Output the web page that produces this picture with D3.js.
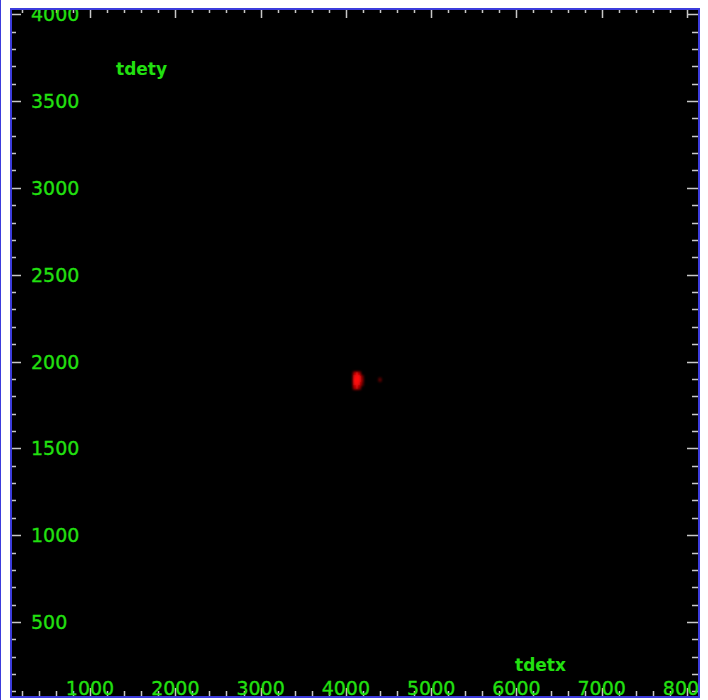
<!DOCTYPE html>
<html>
<head>
<meta charset="utf-8">
<script src="https://cdn.jsdelivr.net/npm/d3@7"></script>
<style>
  html, body { margin: 0; padding: 0; background: #ffffff; }
  svg { display: block; }
</style>
</head>
<body>
<script>
// ---- data ----
const xDomain = [85, 8129];
const yDomain = [74, 4024];
const xMajorTicks = [1000, 2000, 3000, 4000, 5000, 6000, 7000, 8000];
const yMajorTicks = [500, 1000, 1500, 2000, 2500, 3000, 3500, 4000];
const xTitle = "tdetx";
const yTitle = "tdety";
// 2D histogram cells (left edge x, bottom edge y, count)
const binW = 30, binH = 20;
const cellX = [4085,4115,4145, 4085,4115,4145,4175, 4085,4115,4145,4175, 4085,4115,4145,4175, 4085,4115,4145, 4385];
const cellY = [1920,1920,1920, 1900,1900,1900,1900, 1880,1880,1880,1880, 1860,1860,1860,1860, 1840,1840,1840, 1885];
const cellN = [6,9,6, 9,10,10,4, 10,10,10,5, 9,10,9,3, 6,8,5, 3];

const W = 708, H = 700;
const plot = {x0: 12, x1: 698, y0: 10, y1: 696};
const tickColor = "#c8c8c8";
const labelColor = "#22e010";
const frameColor = "#3c3cdc";

const svg = d3.select("body").append("svg").attr("width", W).attr("height", H);
svg.append("rect").attr("width", W).attr("height", H).attr("fill", "#fff");

const x = d3.scaleLinear().domain(xDomain).range([plot.x0, plot.x1]);
const y = d3.scaleLinear().domain(yDomain).range([plot.y1, plot.y0]);

const defs = svg.append("defs");
defs.append("clipPath").attr("id", "clip")
  .append("rect").attr("x", plot.x0).attr("y", plot.y0)
  .attr("width", plot.x1 - plot.x0).attr("height", plot.y1 - plot.y0);
defs.append("filter").attr("id", "blur")
  .attr("x", "-50%").attr("y", "-50%").attr("width", "200%").attr("height", "200%")
  .append("feGaussianBlur").attr("stdDeviation", 0.9);

svg.append("rect").attr("x", plot.x0).attr("y", plot.y0)
  .attr("width", plot.x1 - plot.x0).attr("height", plot.y1 - plot.y0)
  .attr("fill", "#000");

const g = svg.append("g").attr("clip-path", "url(#clip)");

// cells
const color = d3.scaleLinear().domain([0, 10]).range(["#200000", "#ff0a0a"]);
const cells = cellX.map((cx, i) => ({x: cx, y: cellY[i], n: cellN[i]}));
g.append("g").attr("filter", "url(#blur)").selectAll("rect").data(cells).join("rect")
  .attr("x", d => x(d.x) - 0.3)
  .attr("y", d => y(d.y + binH) - 0.3)
  .attr("width", d => x(d.x + binW) - x(d.x) + 0.6)
  .attr("height", d => y(d.y) - y(d.y + binH) + 0.6)
  .attr("fill", d => color(d.n));

// ticks
const yAll = d3.range(100, 4001, 100);
const xAll = d3.range(200, 8001, 200);
const tg = g.append("g").attr("stroke", tickColor).attr("stroke-width", 1.5);
yAll.forEach(v => {
  const maj = v % 500 === 0;
  const yy = Math.round(y(v)) + 0.5;
  tg.append("line").attr("x1", plot.x0).attr("x2", plot.x0 + (maj ? 9 : 4)).attr("y1", yy).attr("y2", yy);
  tg.append("line").attr("x1", plot.x1).attr("x2", plot.x1 - (maj ? 11 : 6)).attr("y1", yy).attr("y2", yy);
});
xAll.forEach(v => {
  const maj = v % 1000 === 0;
  const xx = Math.round(x(v)) + 0.5;
  tg.append("line").attr("y1", plot.y1).attr("y2", plot.y1 - (maj ? 8 : 5)).attr("x1", xx).attr("x2", xx);
  tg.append("line").attr("y1", plot.y0).attr("y2", plot.y0 + (maj ? 8 : 3)).attr("x1", xx).attr("x2", xx);
});

// tick labels
const font = "'DejaVu Sans', sans-serif";
g.append("g").selectAll("text").data(yMajorTicks).join("text")
  .attr("x", 31).attr("y", d => y(d) + 7)
  .attr("font-family", font).attr("font-size", 19).attr("fill", labelColor)
  .attr("stroke", labelColor).attr("stroke-width", 0.3)
  .text(d => d);
g.append("g").selectAll("text").data(xMajorTicks).join("text")
  .attr("x", d => x(d)).attr("y", 695).attr("text-anchor", "middle")
  .attr("font-family", font).attr("font-size", 19).attr("fill", labelColor)
  .attr("stroke", labelColor).attr("stroke-width", 0.3)
  .text(d => d);

// axis titles
g.append("text").attr("x", 116).attr("y", 75)
  .attr("font-family", font).attr("font-size", 17).attr("font-weight", "bold")
  .attr("fill", labelColor).text(yTitle);
g.append("text").attr("x", 515).attr("y", 671)
  .attr("font-family", font).attr("font-size", 17).attr("font-weight", "bold")
  .attr("fill", labelColor).text(xTitle);

// frame
svg.append("rect").attr("x", 11).attr("y", 9).attr("width", 688).attr("height", 688)
  .attr("fill", "none").attr("stroke", frameColor).attr("stroke-width", 2);
svg.append("line").attr("x1", 0.5).attr("x2", 0.5).attr("y1", 0).attr("y2", H)
  .attr("stroke", frameColor).attr("stroke-width", 1);
</script>
</body>
</html>
